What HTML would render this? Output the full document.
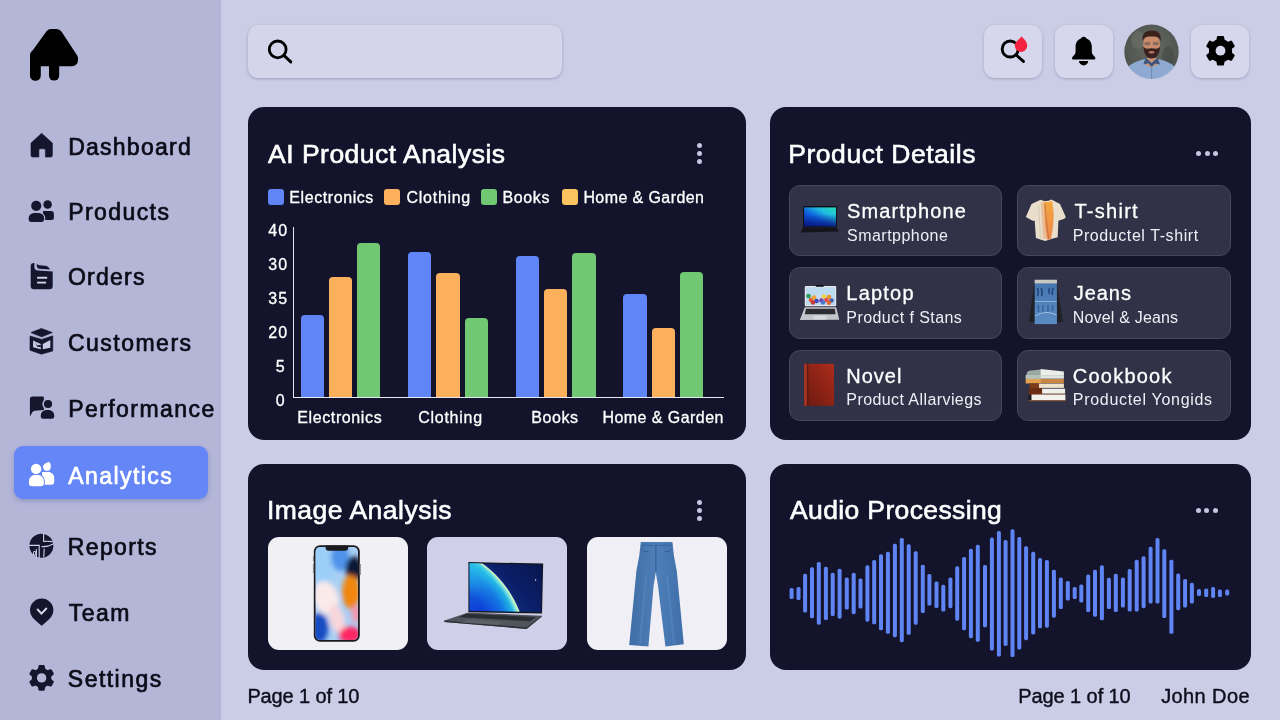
<!DOCTYPE html>
<html lang="en">
<head>
<meta charset="utf-8">
<title>AI Product Analytics Dashboard</title>
<style>
*{box-sizing:border-box;margin:0;padding:0}
html,body{width:1280px;height:720px;overflow:hidden}
body{position:relative;background:#cbcce6;font-family:"Liberation Sans",Arial,sans-serif;color:#14142b}
.abs{position:absolute}
.sidebar{position:absolute;left:0;top:0;width:221px;height:720px;background:#b4b6d8}
.nav{position:absolute;left:68px;font-size:23px;line-height:28px;height:28px;white-space:nowrap;color:#0b0b18;-webkit-text-stroke:.7px #0b0b18}
.navicon{position:absolute;overflow:visible}
.pill{position:absolute;left:14px;top:446px;width:194px;height:53px;border-radius:9px;background:#6586f7;box-shadow:0 2px 5px rgba(70,80,150,.32)}
.search{position:absolute;left:248px;top:25px;width:314px;height:53px;border-radius:10px;background:#d4d5eb;box-shadow:0 1px 3px rgba(80,80,115,.38)}
.tbtn{position:absolute;top:25px;width:58px;height:53px;border-radius:11px;background:#d6d6ec;box-shadow:0 1px 3px rgba(80,80,115,.32)}
.card{position:absolute;background:#13142b;border-radius:16px}
.ctitle{position:absolute;color:#fff;-webkit-text-stroke:.6px #fff;font-size:26.5px;line-height:30px;white-space:nowrap}
.dot{position:absolute;width:5px;height:5px;border-radius:50%;background:#c4c5df}
.lg{position:absolute;top:189px;width:16px;height:16px;border-radius:3px}
.lgt{position:absolute;top:188px;-webkit-text-stroke:.3px #fff;font-size:16px;line-height:20px;color:#fff;white-space:nowrap}
.yl{position:absolute;-webkit-text-stroke:.3px #fff;white-space:nowrap;font-size:16px;line-height:20px;color:#fff}
.xl{position:absolute;-webkit-text-stroke:.3px #fff;top:407.6px;font-size:16px;line-height:20px;color:#fff;white-space:nowrap}
.bar{position:absolute;border-radius:4px 4px 0 0}
.item{position:absolute;width:213px;height:71px;border-radius:11px;background:#313247;border:1px solid #45475e}
.it1{position:absolute;left:58px;color:#fff;font-size:20px;line-height:24px;white-space:nowrap;-webkit-text-stroke:.3px #fff}
.it2{position:absolute;left:58px;color:#eeeef6;font-size:16px;line-height:20px;white-space:nowrap}
.tile{position:absolute;top:537px;width:140px;height:113px;border-radius:11px;overflow:hidden}
.foot{position:absolute;top:684px;font-size:20px;line-height:24px;color:#0d0d1c;-webkit-text-stroke:.4px #0d0d1c;white-space:nowrap}
</style>
</head>
<body>
<div class="sidebar"></div>
<svg class="abs" style="left:0;top:0" width="110" height="100" viewBox="0 0 110 100">
<path d="M51.2 35 L36 56 L36 60.3 L72 60.3 L72 58.5 L56.6 35 Z" fill="#000" stroke="#000" stroke-width="12" stroke-linejoin="round"/>
<rect x="30" y="50" width="10.8" height="30.7" rx="5.3" fill="#000"/>
<rect x="49" y="58" width="10.2" height="22.6" rx="5" fill="#000"/>
</svg>
<div class="pill"></div>
<div class="nav" style="left:68.15px;top:132.7px;letter-spacing:1.26px">Dashboard</div>
<div class="nav" style="left:68.15px;top:198.0px;letter-spacing:1.43px">Products</div>
<div class="nav" style="left:67.95px;top:263.3px;letter-spacing:1.26px">Orders</div>
<div class="nav" style="left:67.95px;top:328.9px;letter-spacing:1.49px">Customers</div>
<div class="nav" style="left:68.15px;top:394.9px;letter-spacing:1.44px">Performance</div>
<div class="nav" style="left:68.35px;top:461.5px;letter-spacing:1.42px;color:#fff;-webkit-text-stroke-color:#fff">Analytics</div>
<div class="nav" style="left:67.85px;top:532.9px;letter-spacing:1.34px">Reports</div>
<div class="nav" style="left:68.85px;top:598.8px;letter-spacing:1.44px">Team</div>
<div class="nav" style="left:67.85px;top:664.7px;letter-spacing:1.46px">Settings</div>
<svg class="abs" style="left:0;top:0" width="221" height="720" viewBox="0 0 221 720">
<path d="M41.6 133.3 L52.4 143.1 V155.4 a1.6 1.6 0 0 1 -1.6 1.6 H45.4 V150.2 a1.4 1.4 0 0 0 -1.4 -1.4 H40.3 a1.4 1.4 0 0 0 -1.4 1.4 V157 H32.6 a1.6 1.6 0 0 1 -1.6 -1.6 V143.1 Z" fill="#15162d" stroke="#15162d" stroke-width="0.6" stroke-linejoin="round"/>
<path d="M43 210.9 H51 a2.9 2.9 0 0 1 2.9 2.9 V217.8 a2.2 2.2 0 0 1 -2.2 2.2 H43 Z" fill="#15162d"/><circle cx="47.6" cy="204.4" r="4.25" fill="#15162d"/><path d="M28.6 219 V218.5 a5.5 5.5 0 0 1 5.5 -5.5 H38.7 a5.5 5.5 0 0 1 5.5 5.5 V219 a3 3 0 0 1 -3 3 H31.6 a3 3 0 0 1 -3 -3 Z" fill="#15162d" stroke="#b4b6d8" stroke-width="2.2"/><path d="M28.6 219 V218.5 a5.5 5.5 0 0 1 5.5 -5.5 H38.7 a5.5 5.5 0 0 1 5.5 5.5 V219 a3 3 0 0 1 -3 3 H31.6 a3 3 0 0 1 -3 -3 Z" fill="#15162d"/><circle cx="36.25" cy="205.8" r="5.1" fill="#15162d" stroke="#b4b6d8" stroke-width="0"/>
<path d="M30.7 266 Q30.7 262.9 33.8 262.9 L34.4 262.9 L34.4 267 Q34.4 270.4 38 270.6 L52.7 271.4 V286 Q52.7 289.3 49.4 289.3 H34 Q30.7 289.3 30.7 286 Z" fill="#15162d"/><path d="M36.7 263.3 L36.9 266.6 Q37 268.7 39 268.8 L50 269.6 Q48.6 266 45 265.7 L39.6 265.3 Q37.5 265.1 36.7 263.3 Z" fill="#15162d"/><rect x="37.1" y="276.8" width="10.1" height="1.9" fill="#d2d4ec"/><rect x="37.1" y="281.7" width="9" height="1.8" fill="#d2d4ec"/>
<path d="M31.1 332.6 L41.4 328.6 L52.2 332.6 L41.7 336.8 Z" fill="#15162d" stroke="#15162d" stroke-width="0.8" stroke-linejoin="round"/><path d="M30 336 L41.7 339.4 L52.8 335.8 V350.9 L41.4 354.2 L30 350.2 Z" fill="#15162d" stroke="#15162d" stroke-width="0.6" stroke-linejoin="round"/><path d="M33.1 340.6 L40.8 343.9 V349.2 L33.1 347.3 Z" fill="#c9cce8"/><path d="M42.8 343.9 L50.3 340 V347.8 L42.8 349.2 Z" fill="#c9cce8"/><path d="M35.2 341.6 L37 345.2 L40.8 345 V347.2 L37.5 346.8 L36.5 345.4 Z" fill="#15162d"/>
<path d="M29.9 399.2 a2.6 2.6 0 0 1 2.6 -2.6 H42.6 a1.3 1.3 0 0 1 1.3 1.3 V410 L34.5 410.8 Q32 411.5 31.3 414 L30.4 416 L29.9 415.6 Z" fill="#15162d"/><circle cx="48" cy="404" r="5.7" fill="#b4b6d8"/><circle cx="48" cy="404" r="4.1" fill="#15162d"/><path d="M40.8 416.5 V415.5 a5.5 5.5 0 0 1 5.5 -5.5 H48.7 a5.5 5.5 0 0 1 5.5 5.5 V416.5 a2.3 2.3 0 0 1 -2.3 2.3 H43.1 a2.3 2.3 0 0 1 -2.3 -2.3 Z" fill="#15162d" stroke="#b4b6d8" stroke-width="0"/>
<path d="M42 472 H48.6 a5.6 5.6 0 0 1 5.6 5.6 V481.8 a3 3 0 0 1 -3 3 H42 Z" fill="#ffffff"/><path d="M48.9 461.8 C51 463.6 50.9 465.6 50.7 466.9 A3.8 3.8 0 1 1 45 463.8 C46.5 462.8 48 462.4 48.9 461.8 Z" fill="#ffffff"/><path d="M28.9 483 V481.3 a6.5 6.5 0 0 1 6.5 -6.5 H37.4 a6.5 6.5 0 0 1 6.5 6.5 V483 a3.2 3.2 0 0 1 -3.2 3.2 H32.1 a3.2 3.2 0 0 1 -3.2 -3.2 Z" fill="#ffffff" stroke="#6586f7" stroke-width="2"/><path d="M28.9 483 V481.3 a6.5 6.5 0 0 1 6.5 -6.5 H37.4 a6.5 6.5 0 0 1 6.5 6.5 V483 a3.2 3.2 0 0 1 -3.2 3.2 H32.1 a3.2 3.2 0 0 1 -3.2 -3.2 Z" fill="#ffffff"/><circle cx="36.1" cy="468.9" r="6.1" fill="#6586f7"/><circle cx="36.1" cy="468.9" r="5.2" fill="#ffffff"/>
<circle cx="41.4" cy="545.8" r="12" fill="#15162d"/><g fill="none" stroke="#d0d3ec" stroke-width="1.1" stroke-linecap="round"><path d="M43.6 533.6 V541"/><path d="M43.8 541.4 Q48 541 52.3 541.6"/><path d="M42 546.6 Q47.5 547 53.2 544"/><path d="M29.6 545.4 H39.2 V557.6"/><ellipse cx="34.6" cy="553.3" rx="1.2" ry="2"/><path d="M36.4 549.6 V557"/><path d="M44.2 549 L43.8 556.5"/></g>
<path d="M41.7 625.8 C37 621.5 30 617.5 30 610.3 A11.7 11.7 0 0 1 53.4 610.3 C53.4 617.5 46.4 621.5 41.7 625.8 Z" fill="#15162d"/><path d="M37.2 609 L41.4 613.6 L46.8 608" fill="none" stroke="#d8dbf0" stroke-width="1.9"/>
<g transform="translate(41.6 677.9)" fill="#15162d"><circle r="9.8"/><path d="M-3.9 -8 L-3.1 -11.8 Q-3.0 -12.8 -2.0 -12.8 H2.0 Q3.0 -12.8 3.1 -11.8 L3.9 -8 Z" transform="rotate(0)"/><path d="M-3.9 -8 L-3.1 -11.8 Q-3.0 -12.8 -2.0 -12.8 H2.0 Q3.0 -12.8 3.1 -11.8 L3.9 -8 Z" transform="rotate(60)"/><path d="M-3.9 -8 L-3.1 -11.8 Q-3.0 -12.8 -2.0 -12.8 H2.0 Q3.0 -12.8 3.1 -11.8 L3.9 -8 Z" transform="rotate(120)"/><path d="M-3.9 -8 L-3.1 -11.8 Q-3.0 -12.8 -2.0 -12.8 H2.0 Q3.0 -12.8 3.1 -11.8 L3.9 -8 Z" transform="rotate(180)"/><path d="M-3.9 -8 L-3.1 -11.8 Q-3.0 -12.8 -2.0 -12.8 H2.0 Q3.0 -12.8 3.1 -11.8 L3.9 -8 Z" transform="rotate(240)"/><path d="M-3.9 -8 L-3.1 -11.8 Q-3.0 -12.8 -2.0 -12.8 H2.0 Q3.0 -12.8 3.1 -11.8 L3.9 -8 Z" transform="rotate(300)"/><circle r="4.7" fill="#b4b6d8"/></g>
</svg>
<div class="search"></div>
<div class="tbtn" style="left:984px"></div>
<div class="tbtn" style="left:1055px"></div>
<div class="tbtn" style="left:1191px"></div>
<svg class="abs" style="left:221px;top:0" width="1059" height="100" viewBox="221 0 1059 100">
<circle cx="277.7" cy="49.4" r="8.4" fill="none" stroke="#000" stroke-width="2.8"/><path d="M283.9 55.4 L290.8 61.9" stroke="#000" stroke-width="3" stroke-linecap="round"/>
<circle cx="1010.2" cy="49" r="8" fill="none" stroke="#000" stroke-width="2.9"/><path d="M1016.2 55 L1023.4 61.4" stroke="#000" stroke-width="3" stroke-linecap="round"/>
<path d="M1021.6 36.2 C1023.4 38.6 1027.3 41.6 1027.3 45.7 A6.2 6.2 0 1 1 1015.6 42.8 C1017.4 39.6 1020.6 38.4 1021.6 36.2 Z" fill="#f5233f"/>
<path d="M1083.6 36.8 C1081.8 36.8 1081.4 37.8 1081 38.6 C1077.6 39.8 1075.6 43 1075.6 46.6 V51.5 C1075.6 54.4 1073.6 55.6 1072.4 57 Q1071.4 59.5 1073.6 59.6 H1093.8 Q1096 59.5 1095 57 C1093.8 55.6 1091.8 54.4 1091.8 51.5 V46.6 C1091.8 43 1089.8 39.8 1086.4 38.6 C1086 37.8 1085.4 36.8 1083.6 36.8 Z" fill="#000"/><path d="M1079 61 H1088.2 A4.6 4.4 0 0 1 1079 61 Z" fill="#000"/>
<g transform="translate(1220.5 50.7)" fill="#000"><circle r="11.6"/><path d="M-4.4 -8 L-3.6 -13.8 Q-3.5 -14.8 -2.5 -14.8 H2.5 Q3.5 -14.8 3.6 -13.8 L4.4 -8 Z" transform="rotate(0)"/><path d="M-4.4 -8 L-3.6 -13.8 Q-3.5 -14.8 -2.5 -14.8 H2.5 Q3.5 -14.8 3.6 -13.8 L4.4 -8 Z" transform="rotate(60)"/><path d="M-4.4 -8 L-3.6 -13.8 Q-3.5 -14.8 -2.5 -14.8 H2.5 Q3.5 -14.8 3.6 -13.8 L4.4 -8 Z" transform="rotate(120)"/><path d="M-4.4 -8 L-3.6 -13.8 Q-3.5 -14.8 -2.5 -14.8 H2.5 Q3.5 -14.8 3.6 -13.8 L4.4 -8 Z" transform="rotate(180)"/><path d="M-4.4 -8 L-3.6 -13.8 Q-3.5 -14.8 -2.5 -14.8 H2.5 Q3.5 -14.8 3.6 -13.8 L4.4 -8 Z" transform="rotate(240)"/><path d="M-4.4 -8 L-3.6 -13.8 Q-3.5 -14.8 -2.5 -14.8 H2.5 Q3.5 -14.8 3.6 -13.8 L4.4 -8 Z" transform="rotate(300)"/><circle r="4.9" fill="#d6d6ec"/></g>
<defs><filter id="avb" x="-5%" y="-5%" width="110%" height="110%"><feGaussianBlur stdDeviation=".45"/></filter><clipPath id="av"><circle cx="1151.5" cy="51.8" r="27.2"/></clipPath>
<radialGradient id="avbg" cx="0.5" cy="0.4" r="0.7"><stop offset="0" stop-color="#666a63"/><stop offset="1" stop-color="#474c48"/></radialGradient></defs>
<g clip-path="url(#av)"><g filter="url(#avb)">
<rect x="1122" y="22" width="60" height="60" fill="url(#avbg)"/><rect x="1124" y="24" width="56" height="56" fill="url(#avbg)"/>
<ellipse cx="1138" cy="40" rx="7" ry="9" fill="#6f736a" opacity=".5"/><ellipse cx="1168" cy="56" rx="6" ry="10" fill="#454a45" opacity=".6"/>
<path d="M1127 80 V68 Q1130 63 1146 58.5 L1157 58.5 Q1172 62.5 1176 68 V80 Z" fill="#8eaad2"/>
<path d="M1146 58 L1144 64 L1151 67.5 L1158.5 64 L1157 58 Z" fill="#c99474"/>
<path d="M1145.6 57.5 L1143.4 64.4 L1148.2 63.2 L1151.6 67 L1155 63.4 L1160 64.6 L1157.6 57.5 L1151.6 63 Z" fill="#41557e"/>
<path d="M1151.6 66 V80" stroke="#6e88b4" stroke-width="1"/>
<ellipse cx="1151.6" cy="45" rx="8.6" ry="11.5" fill="#c98d6e"/>
<path d="M1142.6 41 C1141.8 33 1146 30.4 1151.8 30.4 C1158 30.4 1161.6 33.4 1160.8 41.4 C1159.6 37.6 1157 36.4 1151.6 36.6 C1146.6 36.4 1144 37.4 1142.6 41 Z" fill="#3b201c"/>
<path d="M1143.2 46 C1143.6 53 1146 58.4 1151.6 58.4 C1157.4 58.4 1159.8 53 1160.2 46 C1158.6 49.6 1156 48.6 1151.6 48.2 C1147.4 48.6 1145 49.6 1143.2 46 Z" fill="#3a2420"/>
<ellipse cx="1151.6" cy="52.2" rx="3" ry="1.3" fill="#b9745c"/>
<rect x="1144.4" y="42" width="6" height="3.2" rx="1.4" fill="#8a6a5c"/><rect x="1152.8" y="42" width="6" height="3.2" rx="1.4" fill="#8a6a5c"/>
</g></g>
</svg>
<div class="card" style="left:248px;top:107px;width:498.2px;height:333px"></div>
<div class="ctitle" id="t1" style="left:268.1px;top:139.3px;letter-spacing:.48px">AI Product Analysis</div>
<div class="dot" style="left:697px;top:142.6px"></div><div class="dot" style="left:697px;top:150.9px"></div><div class="dot" style="left:697px;top:159.4px"></div>
<div class="lg" style="left:267.8px;background:#5f85f8"></div><div class="lgt" style="left:289.3px;letter-spacing:0.58px">Electronics</div>
<div class="lg" style="left:383.9px;background:#fdb05c"></div><div class="lgt" style="left:406.6px;letter-spacing:0.71px">Clothing</div>
<div class="lg" style="left:481px;background:#70c873"></div><div class="lgt" style="left:502.4px;letter-spacing:0.63px">Books</div>
<div class="lg" style="left:562px;background:#fcc45e"></div><div class="lgt" style="left:583.4px;letter-spacing:0.41px">Home &amp; Garden</div>
<div class="yl" style="left:268.2px;letter-spacing:1.2px;top:221.3px">40</div><div class="yl" style="left:268.2px;letter-spacing:1.2px;top:255.1px">30</div><div class="yl" style="left:268.2px;letter-spacing:1.2px;top:289.0px">35</div><div class="yl" style="left:268.2px;letter-spacing:1.2px;top:323.2px">20</div><div class="yl" style="left:275.7px;top:356.6px">5</div><div class="yl" style="left:275.7px;top:390.5px">0</div>
<div class="abs" style="left:293px;top:227px;width:1.2px;height:171px;background:#e8e8f4"></div><div class="abs" style="left:293px;top:396.8px;width:431px;height:1.2px;background:#e8e8f4"></div>
<div class="bar" style="left:300.8px;top:315.1px;width:23.3px;height:81.8px;background:#5f85f8"></div><div class="bar" style="left:328.8px;top:277.2px;width:23.4px;height:119.7px;background:#fdb05c"></div><div class="bar" style="left:356.8px;top:243.2px;width:23.4px;height:153.7px;background:#70c873"></div><div class="bar" style="left:407.8px;top:252px;width:23.4px;height:144.9px;background:#5f85f8"></div><div class="bar" style="left:435.9px;top:273.2px;width:23.9px;height:123.7px;background:#fdb05c"></div><div class="bar" style="left:464.9px;top:317.8px;width:23.1px;height:79.1px;background:#70c873"></div><div class="bar" style="left:515.9px;top:255.9px;width:23.5px;height:141.0px;background:#5f85f8"></div><div class="bar" style="left:543.8px;top:288.8px;width:23.4px;height:108.1px;background:#fdb05c"></div><div class="bar" style="left:572.2px;top:252.5px;width:23.4px;height:144.4px;background:#70c873"></div><div class="bar" style="left:623.1px;top:294px;width:23.8px;height:102.9px;background:#5f85f8"></div><div class="bar" style="left:651.6px;top:327.8px;width:23.4px;height:69.1px;background:#fdb05c"></div><div class="bar" style="left:680px;top:272.2px;width:23.4px;height:124.7px;background:#70c873"></div>
<div class="xl" style="left:297.3px;letter-spacing:0.61px">Electronics</div><div class="xl" style="left:418.2px;letter-spacing:0.74px">Clothing</div><div class="xl" style="left:531.2px;letter-spacing:0.61px">Books</div><div class="xl" style="left:602.4px;letter-spacing:0.45px">Home &amp; Garden</div>
<div class="card" style="left:769.7px;top:107px;width:481.1px;height:333px"></div>
<div class="ctitle" style="left:788.3px;top:139.3px;letter-spacing:.53px">Product Details</div>
<div class="dot" style="left:1196.1px;top:150.6px"></div><div class="dot" style="left:1204.6px;top:150.6px"></div><div class="dot" style="left:1213.1px;top:150.6px"></div>
<div class="item" style="left:788.8px;top:185.2px;width:213.1px;height:70.4px"></div><div class="item" style="left:1017.3px;top:185.2px;width:214px;height:70.4px"></div><div class="item" style="left:788.8px;top:267px;width:213.1px;height:71.6px"></div><div class="item" style="left:1017.3px;top:267px;width:214px;height:71.6px"></div><div class="item" style="left:788.8px;top:350.1px;width:213.1px;height:70.8px"></div><div class="item" style="left:1017.3px;top:350.1px;width:214px;height:70.8px"></div>
<div class="it1" style="left:847.0px;top:198.5px;letter-spacing:1.1px">Smartphone</div>
<div class="it1" style="left:1074.4px;top:198.5px;letter-spacing:1.28px">T-shirt</div>
<div class="it1" style="left:846.3px;top:280.9px;letter-spacing:1.21px">Laptop</div>
<div class="it1" style="left:1073.8px;top:280.9px;letter-spacing:0.93px">Jeans</div>
<div class="it1" style="left:846.3px;top:363.8px;letter-spacing:0.98px">Novel</div>
<div class="it1" style="left:1072.8px;top:363.8px;letter-spacing:1.23px">Cookbook</div>
<div class="it2" style="left:847.0px;top:225.7px;letter-spacing:0.48px">Smartpphone</div>
<div class="it2" style="left:1072.7px;top:225.7px;letter-spacing:0.58px">Productel T-shirt</div>
<div class="it2" style="left:846.3px;top:307.9px;letter-spacing:0.44px">Product f Stans</div>
<div class="it2" style="left:1072.8px;top:307.9px;letter-spacing:0.18px">Novel &amp; Jeans</div>
<div class="it2" style="left:846.3px;top:390.4px;letter-spacing:0.42px">Product Allarviegs</div>
<div class="it2" style="left:1072.8px;top:390.4px;letter-spacing:0.7px">Productel Yongids</div>
<svg class="abs" style="left:769px;top:107px" width="482" height="333" viewBox="769 107 482 333">
<defs>
<linearGradient id="scr1" x1="0" y1="1" x2="1" y2="0"><stop offset="0" stop-color="#0a2ab4"/><stop offset=".42" stop-color="#0e64e2"/><stop offset=".7" stop-color="#1fbfe0"/><stop offset="1" stop-color="#2ad8b4"/></linearGradient>
<linearGradient id="scr1b" x1="0" y1="0" x2="0" y2="1"><stop offset=".35" stop-color="#0a1a80" stop-opacity="0"/><stop offset="1" stop-color="#081070" stop-opacity=".8"/></linearGradient>
<linearGradient id="bk" x1="1" y1="0" x2="0" y2="1"><stop offset="0" stop-color="#ad2c1c"/><stop offset="1" stop-color="#6a1a10"/></linearGradient>
<linearGradient id="dn" x1="0" y1="0" x2="0" y2="1"><stop offset="0" stop-color="#4473ad"/><stop offset=".5" stop-color="#4f80b8"/><stop offset="1" stop-color="#5b8cc4"/></linearGradient>
<linearGradient id="ts" x1="0" y1="0" x2="0" y2="1"><stop offset="0" stop-color="#f4a640"/><stop offset="1" stop-color="#ee8848"/></linearGradient>
<filter id="sb" x="-30%" y="-10%" width="160%" height="120%"><feGaussianBlur stdDeviation=".7"/></filter><filter id="sb2" x="-10%" y="-10%" width="120%" height="120%"><feGaussianBlur stdDeviation=".35"/></filter>
</defs>
<rect x="803.1" y="206" width="33.8" height="21.6" rx="1" fill="#0c0e18"/><rect x="804.1" y="207.4" width="31.9" height="18.8" fill="url(#scr1)"/><rect x="804.1" y="207.4" width="31.9" height="18.8" fill="url(#scr1b)"/><path d="M803.1 227.4 H836.9 L838.8 231.6 L800.5 232.4 Z" fill="#14141c"/>
<path d="M1040.6 199.8 Q1046 202.5 1051.4 199.4 L1060 204 L1065.8 216.9 L1064.4 218.8 L1058.4 220.8 L1057.7 237.3 Q1051 239 1045.2 241 Q1040 239.5 1035.9 237.9 L1034.7 220.8 L1032.6 220.8 L1025.8 216.9 L1031.5 204 Z" fill="#e9decb"/><path d="M1040.6 202 L1045 203 L1047.2 239 L1043 238.5 Z" fill="#e8bf9c" filter="url(#sb)"/><path d="M1043.8 201 Q1046.8 203.4 1052 200.8 L1053.6 212 Q1054 226 1050.8 239 L1047.4 239.8 Q1044.2 226 1044.2 212 Z" fill="url(#ts)" filter="url(#sb2)"/><path d="M1045 204 Q1046.4 222 1048.6 239" stroke="#b06a50" stroke-width="1" fill="none" opacity=".7"/><path d="M1038.5 205 Q1039.5 222 1040.5 238" stroke="#d8ccb4" stroke-width="1.2" fill="none"/>
<rect x="804.8" y="285.9" width="31.4" height="20.4" rx="1" fill="#e4e6ea"/><rect x="806" y="287.4" width="29.2" height="17.5" fill="#bcdaf0"/><circle cx="808.5" cy="296" r="2.3" fill="#2a9a5a"/><circle cx="811" cy="300" r="2.3" fill="#e85a30"/><circle cx="814" cy="297.5" r="2.3" fill="#f0a030"/><circle cx="816.5" cy="301" r="2.3" fill="#3a4ab0"/><circle cx="819" cy="297" r="2.3" fill="#d0d8f0"/><circle cx="821.5" cy="300.5" r="2.3" fill="#7a3aa8"/><circle cx="824" cy="296.5" r="2.3" fill="#f0d040"/><circle cx="826.5" cy="300" r="2.3" fill="#e84a4a"/><circle cx="829" cy="297" r="2.3" fill="#e89030"/><circle cx="831.5" cy="300.5" r="2.3" fill="#4a5ab8"/><circle cx="813" cy="302.5" r="2.3" fill="#c83a3a"/><circle cx="823" cy="302.5" r="2.3" fill="#4a7ad0"/><circle cx="829" cy="302.8" r="2.3" fill="#e06a30"/><rect x="815.7" y="285" width="8.2" height="1.8" rx=".8" fill="#0c0c14"/><path d="M804.8 307.3 H836.2 L839.3 319.7 L799.8 320 Z" fill="#c4c5ca"/><path d="M806 308.8 H834.8 L835.6 314.3 L804.8 314.3 Z" fill="#2c2c33"/><path d="M813.8 315.8 H826.2 L826.6 319.4 L813.4 319.4 Z" fill="#d8d9de"/>
<path d="M1034.2 283.5 L1028.9 321.8 L1034.6 322 L1035.2 283.5 Z" fill="#1f2327"/><path d="M1057 283.5 L1063.1 321.8 L1057 322.6 L1056.6 283.5 Z" fill="#1f2327"/><rect x="1034.7" y="279.8" width="22.2" height="44.3" fill="url(#dn)"/><rect x="1034.7" y="279.8" width="22.2" height="3.6" fill="#c9c8c0"/><path d="M1037.5 288 q1.5 4 0 8 M1041 288 q2 4 .5 8 M1049.5 288 q-1.5 3 0 6 M1053.5 288 q-2 4 -1 7" stroke="#24457c" stroke-width="1.6" fill="none"/><path d="M1035 301.5 H1056.6" stroke="#9bbde0" stroke-width=".8"/><path d="M1038.5 305 v7 M1043 305 v8 M1048 305 v7 M1052.5 305 v6" stroke="#3a64a0" stroke-width="1.6" fill="none"/><path d="M1035 316 Q1046 309.5 1056.6 315" stroke="#a8c8e8" stroke-width=".9" fill="none"/>
<rect x="804.1" y="363.8" width="29.9" height="42" fill="url(#bk)"/><rect x="804.1" y="363.8" width="3.3" height="42" fill="#a23322"/><rect x="807.3" y="363.8" width=".9" height="42" fill="#4e0f0a"/>
<path d="M1026.5 374 Q1027 371 1031 370.6 L1041 369.6 L1041 375.4 L1026.5 375.4 Z" fill="#9aa9a2"/><path d="M1040.6 369 L1063.9 371.6 L1063.9 375.4 L1040.6 375.4 Z" fill="#ecece8"/><rect x="1025.8" y="375.2" width="38.1" height="3.5" fill="#dfe4e0"/><rect x="1025.8" y="375.2" width="15" height="3.5" fill="#b4c0ba"/><rect x="1025.8" y="379" width="38.1" height="4.3" fill="#c98544"/><rect x="1025.8" y="379" width="15" height="4.3" fill="#e2a24f"/><rect x="1029.6" y="383.4" width="11" height="4.6" fill="#7c3c1c"/><rect x="1039" y="383.6" width="24.9" height="4.3" fill="#efe3cc"/><rect x="1028.8" y="388" width="13.5" height="6" fill="#6a2c12"/><rect x="1042.1" y="388.7" width="23" height="5" fill="#f0f0ee"/><rect x="1028.4" y="393.8" width="37" height="1" fill="#8a4a24"/><rect x="1031.2" y="394.6" width="34.2" height="5.7" fill="#f2f1ec"/><rect x="1028.4" y="394.4" width="3" height="6.4" fill="#1c1c20"/><rect x="1028.4" y="400.2" width="37" height="1" fill="#8a5a34"/>
</svg>
<div class="card" style="left:248px;top:463.8px;width:498.2px;height:205.8px"></div>
<div class="ctitle" style="left:266.9px;top:494.8px;letter-spacing:.5px">Image Analysis</div>
<div class="dot" style="left:696.7px;top:500.2px"></div><div class="dot" style="left:696.7px;top:508.2px"></div><div class="dot" style="left:696.7px;top:516.0px"></div>
<div class="tile" style="left:268px;background:#f0f0f5"></div><div class="tile" style="left:427px;background:#cfcfe9"></div><div class="tile" style="left:587px;background:#efeff5"></div>
<svg class="abs" style="left:248px;top:464px" width="499" height="206" viewBox="248 464 499 206">
<defs>
<clipPath id="phs"><rect x="315.6" y="547" width="42.4" height="93" rx="4.6"/></clipPath>
<filter id="bl" x="-20%" y="-20%" width="140%" height="140%"><feGaussianBlur stdDeviation="2.5"/></filter>
<clipPath id="lps"><path d="M469.6 563.3 L542.2 564.8 L541 612 L469.6 610.8 Z"/></clipPath>
<linearGradient id="jn" x1="0" y1="0" x2="1" y2="0"><stop offset="0" stop-color="#3f6da6"/><stop offset=".5" stop-color="#4f7fb8"/><stop offset="1" stop-color="#3f6ea8"/></linearGradient>
<radialGradient id="earth" gradientUnits="userSpaceOnUse" cx="420" cy="650" r="107"><stop offset="0" stop-color="#0b2ad0"/><stop offset=".7" stop-color="#0e3fd8"/><stop offset=".86" stop-color="#1378e4"/><stop offset=".94" stop-color="#22b4e6"/><stop offset=".975" stop-color="#8cecdc"/><stop offset=".992" stop-color="#dff2b4"/><stop offset="1" stop-color="#3a78d0"/></radialGradient><linearGradient id="earth2" gradientUnits="userSpaceOnUse" x1="470" y1="562" x2="500" y2="612"><stop offset="0" stop-color="#2ac4ea" stop-opacity=".85"/><stop offset=".55" stop-color="#2ac4ea" stop-opacity=".15"/><stop offset="1" stop-color="#0a28c8" stop-opacity="0"/></linearGradient><clipPath id="ecl"><circle cx="420" cy="650" r="105"/></clipPath><linearGradient id="sky" gradientUnits="userSpaceOnUse" x1="490" y1="610" x2="543" y2="563"><stop offset="0" stop-color="#123086"/><stop offset=".5" stop-color="#0b1f68"/><stop offset="1" stop-color="#08154c"/></linearGradient>
</defs>
<rect x="313.8" y="545.3" width="46" height="96.4" rx="6.2" fill="#1a1a1f"/><g clip-path="url(#phs)"><rect x="314" y="546" width="46" height="96" fill="#a9cff4"/><g filter="url(#bl)"><ellipse cx="322" cy="566" rx="12" ry="22" fill="#9ccff8"/><ellipse cx="340" cy="557" rx="9" ry="14" fill="#4f93ea"/><ellipse cx="354" cy="569" rx="8.5" ry="12.5" fill="#0a1230"/><ellipse cx="351" cy="592" rx="9" ry="17" fill="#f28508"/><ellipse cx="326" cy="598" rx="12.5" ry="17" fill="#fbeaea" transform="rotate(-18 326 598)"/><ellipse cx="337" cy="619" rx="7.5" ry="15" fill="#f9d6dc" transform="rotate(-15 337 619)"/><ellipse cx="319" cy="628" rx="9.5" ry="15" fill="#124cc2"/><ellipse cx="350" cy="635" rx="11" ry="8.5" fill="#ff2563"/><ellipse cx="356" cy="614" rx="4.5" ry="9" fill="#f395ac"/></g></g><path d="M325.6 545.6 H348.2 V547.6 Q348.2 550.8 345 550.8 H328.8 Q325.6 550.8 325.6 547.6 Z" fill="#1a1a1f"/><rect x="312.9" y="556" width="1.2" height="5" fill="#8a8a92"/><rect x="312.9" y="564" width="1.2" height="9" fill="#8a8a92"/><rect x="359.7" y="564" width="1.2" height="11" fill="#8a8a92"/>
<path d="M468.4 562 L543.2 563.6 L542 613.6 L468.4 612.2 Z" fill="#15171c"/><g clip-path="url(#lps)"><rect x="469" y="562" width="75" height="52" fill="url(#sky)"/><circle cx="420" cy="650" r="107" fill="url(#earth)"/><rect x="469" y="562" width="75" height="52" fill="url(#earth2)" clip-path="url(#ecl)"/><circle cx="535.6" cy="580" r=".7" fill="#dfe8ff"/></g><path d="M468.4 612.4 L541.8 615.8 L526.6 628.9 L444.4 621.9 L444.4 620.6 Z" fill="#50555c"/><path d="M444.4 620.6 L444.4 622 L526.6 629 L541.8 616.8 L541.8 615.6 L526.6 627.4 Z" fill="#2e3238"/><path d="M466 613.8 L536 617 L530 621.2 L459 617.2 Z" fill="#2a2d33"/><path d="M468 619.6 L503 621.8 L498 625 L461 622.4 Z" fill="#5c6168"/>
<path d="M640.8 542 H672.4 Q673.4 556 676.8 571 L683.8 644.2 L665.4 646.6 L658 586 L655.8 572.4 L653.6 586 L648.4 646.4 L629.2 645 L636.4 571 Q639.8 556 640.8 542 Z" fill="url(#jn)"/><path d="M641 545.4 H672.4" stroke="#35609a" stroke-width=".8"/><path d="M655.9 545 V571" stroke="#2f5890" stroke-width="1"/><path d="M641.4 549 Q644 553 648.4 551.6 M671.6 549 Q669 553 664.8 551.6" stroke="#2f5890" stroke-width=".9" fill="none"/><path d="M646 575 L640 644" stroke="#5d8cc4" stroke-width="2" opacity=".5"/><path d="M667 575 L674 644" stroke="#5d8cc4" stroke-width="2" opacity=".5"/>
</svg>
<div class="card" style="left:769.7px;top:463.8px;width:481.1px;height:205.8px"></div>
<div class="ctitle" style="left:790px;top:494.8px;letter-spacing:.37px">Audio Processing</div>
<div class="dot" style="left:1195.5px;top:508.4px"></div><div class="dot" style="left:1204.4px;top:508.4px"></div><div class="dot" style="left:1213.3px;top:508.4px"></div>
<svg class="abs" style="left:769px;top:520px" width="482" height="150" viewBox="769 520 482 150">
<g fill="#5f85f4"><rect x="789.6" y="587.9" width="4.0" height="11.2" rx="1.6"/><rect x="796.5" y="586.9" width="4.0" height="13.2" rx="1.6"/><rect x="803.1" y="573.8" width="4.0" height="38.8" rx="1.6"/><rect x="810.0" y="567.3" width="4.0" height="51.0" rx="1.6"/><rect x="816.8" y="561.9" width="4.0" height="62.8" rx="1.6"/><rect x="823.9" y="566.7" width="4.0" height="53.4" rx="1.6"/><rect x="830.7" y="572.8" width="4.0" height="43.2" rx="1.6"/><rect x="837.6" y="568.7" width="4.0" height="50.0" rx="1.6"/><rect x="844.8" y="577.4" width="4.0" height="32.2" rx="1.6"/><rect x="851.7" y="572.8" width="4.0" height="41.4" rx="1.6"/><rect x="858.5" y="578.4" width="4.0" height="30.2" rx="1.6"/><rect x="865.4" y="565.3" width="4.0" height="56.4" rx="1.6"/><rect x="872.2" y="559.9" width="4.0" height="64.4" rx="1.6"/><rect x="879.0" y="554.2" width="4.0" height="76.1" rx="1.6"/><rect x="885.9" y="551.8" width="4.0" height="82.0" rx="1.6"/><rect x="892.9" y="543.8" width="4.0" height="93.4" rx="1.6"/><rect x="899.8" y="537.9" width="4.0" height="104.3" rx="1.6"/><rect x="906.7" y="544.2" width="4.0" height="90.6" rx="1.6"/><rect x="913.7" y="551.2" width="4.0" height="73.5" rx="1.6"/><rect x="920.8" y="564.7" width="4.0" height="48.3" rx="1.6"/><rect x="927.4" y="574.0" width="4.0" height="31.6" rx="1.6"/><rect x="934.5" y="581.4" width="4.0" height="26.6" rx="1.6"/><rect x="941.3" y="584.8" width="4.0" height="26.8" rx="1.6"/><rect x="948.4" y="577.4" width="4.0" height="30.8" rx="1.6"/><rect x="955.2" y="566.3" width="4.0" height="54.4" rx="1.6"/><rect x="962.1" y="556.9" width="4.0" height="73.4" rx="1.6"/><rect x="968.9" y="548.8" width="4.0" height="89.4" rx="1.6"/><rect x="975.8" y="544.8" width="4.0" height="97.0" rx="1.6"/><rect x="983.0" y="564.9" width="4.0" height="62.4" rx="1.6"/><rect x="989.9" y="537.5" width="4.0" height="113.0" rx="1.6"/><rect x="996.9" y="531.0" width="4.0" height="125.5" rx="1.6"/><rect x="1003.6" y="540.1" width="4.0" height="105.8" rx="1.6"/><rect x="1010.5" y="529.3" width="4.0" height="127.7" rx="1.6"/><rect x="1017.3" y="537.1" width="4.0" height="112.4" rx="1.6"/><rect x="1024.1" y="546.2" width="4.0" height="94.0" rx="1.6"/><rect x="1031.2" y="551.8" width="4.0" height="82.6" rx="1.6"/><rect x="1038.0" y="557.9" width="4.0" height="70.4" rx="1.6"/><rect x="1044.9" y="559.9" width="4.0" height="67.8" rx="1.6"/><rect x="1051.9" y="569.7" width="4.0" height="48.0" rx="1.6"/><rect x="1058.8" y="577.4" width="4.0" height="31.6" rx="1.6"/><rect x="1065.8" y="581.0" width="4.0" height="19.5" rx="1.6"/><rect x="1072.7" y="586.9" width="4.0" height="12.2" rx="1.6"/><rect x="1079.3" y="584.4" width="4.0" height="18.2" rx="1.6"/><rect x="1086.2" y="574.4" width="4.0" height="37.6" rx="1.6"/><rect x="1093.0" y="569.7" width="4.0" height="47.0" rx="1.6"/><rect x="1099.9" y="565.3" width="4.0" height="55.0" rx="1.6"/><rect x="1106.9" y="577.8" width="4.0" height="31.2" rx="1.6"/><rect x="1113.8" y="573.8" width="4.0" height="38.2" rx="1.6"/><rect x="1120.9" y="577.4" width="4.0" height="30.2" rx="1.6"/><rect x="1127.7" y="568.9" width="4.0" height="42.7" rx="1.6"/><rect x="1134.7" y="559.7" width="4.0" height="51.9" rx="1.6"/><rect x="1141.6" y="556.2" width="4.0" height="52.0" rx="1.6"/><rect x="1148.6" y="546.8" width="4.0" height="56.8" rx="1.6"/><rect x="1155.5" y="538.1" width="4.0" height="65.5" rx="1.6"/><rect x="1162.3" y="549.2" width="4.0" height="68.9" rx="1.6"/><rect x="1169.4" y="559.7" width="4.0" height="74.1" rx="1.6"/><rect x="1176.2" y="573.4" width="4.0" height="36.8" rx="1.6"/><rect x="1183.1" y="579.0" width="4.0" height="28.6" rx="1.6"/><rect x="1189.9" y="582.8" width="4.0" height="20.8" rx="1.6"/><rect x="1197.0" y="589.1" width="4.0" height="7.0" rx="1.6"/><rect x="1204.2" y="588.5" width="4.0" height="8.6" rx="1.6"/><rect x="1211.1" y="587.1" width="4.0" height="10.8" rx="1.6"/><rect x="1217.9" y="589.5" width="4.0" height="7.6" rx="1.6"/><rect x="1225.2" y="589.5" width="4.0" height="6.0" rx="1.6"/></g>
</svg>
<div class="foot" style="left:247.4px;letter-spacing:-.13px">Page 1 of 10</div><div class="foot" style="left:1018.3px;letter-spacing:-.09px">Page 1 of 10</div><div class="foot" style="left:1161.2px;letter-spacing:.39px">John Doe</div>
</body>
</html>
